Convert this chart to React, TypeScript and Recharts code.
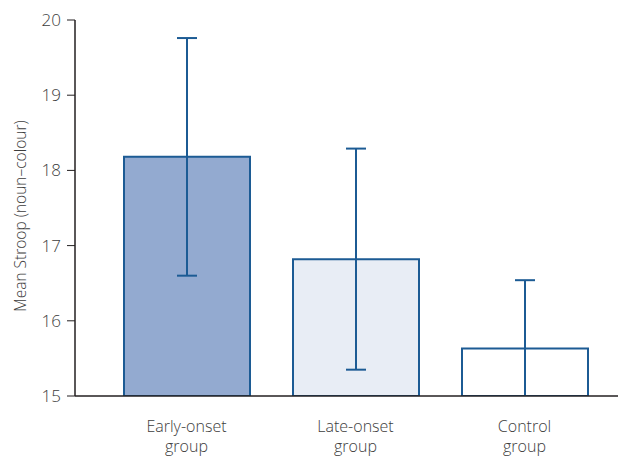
import React from 'react';
import { BarChart, Bar, XAxis, YAxis, ErrorBar, Cell } from 'recharts';

const groups = ['Early-onset\ngroup', 'Late-onset\ngroup', 'Control\ngroup'];
const means = [18.18, 16.82, 15.63];
const errors = [1.58, 1.47, 0.91];
const fills = ['#93aad0', '#e8edf5', '#ffffff'];
const yTicks = [15, 16, 17, 18, 19, 20];

const data = groups.map((g, i) => ({ group: g, mean: means[i], err: errors[i] }));

const FONT = '"Open Sans", "Liberation Sans", sans-serif';
const TEXT = '#3c3c3c';
const BLUE = '#1c5b94';
const AXIS = '#231f20';

const GroupTick = (props: any) => {
  const { x, y, payload } = props;
  const lines = String(payload.value).split('\n');
  return (
    <text x={x} y={y} textAnchor="middle" fill={TEXT} fontSize={16} fontFamily={FONT} fontWeight={300}>
      {lines.map((l, i) => (
        <tspan key={i} x={x} dy={i === 0 ? 28 : 20}>{l}</tspan>
      ))}
    </text>
  );
};

export default function App() {
  return (
    <div style={{ position: 'absolute', left: 0, top: 0, background: '#fff' }}>
      {/* keep the control group's lower whisker inside the plot, like the original */}
      <style>{'.recharts-errorBar{clip-path:url(#clipPath-bars)}'}</style>
      <BarChart width={618} height={456} data={data} margin={{ top: 20, right: 0, bottom: 0, left: 0 }}>
        <XAxis
          dataKey="group"
          height={60}
          padding={{ left: 27, right: 9 }}
          tickLine={false}
          axisLine={{ stroke: AXIS, strokeWidth: 1.5 }}
          tick={<GroupTick />}
          interval={0}
        />
        <YAxis
          width={75}
          domain={[15, 20]}
          ticks={yTicks}
          allowDataOverflow
          tickSize={8}
          tickMargin={6}
          tickLine={{ stroke: AXIS, strokeWidth: 1 }}
          axisLine={{ stroke: AXIS, strokeWidth: 1.5 }}
          tick={{ fill: TEXT, fontSize: 17, fontFamily: FONT, fontWeight: 300 }}
          label={{
            value: 'Mean Stroop (noun–colour)',
            angle: -90,
            position: 'insideLeft',
            dx: 15,
            dy: 8,
            style: { textAnchor: 'middle', fill: TEXT, fontSize: 15.5, fontFamily: FONT, fontWeight: 300 },
          }}
        />
        <Bar id="bars" dataKey="mean" barSize={126} stroke={BLUE} strokeWidth={2} isAnimationActive={false}>
          {data.map((d, i) => (
            <Cell key={i} fill={fills[i]} />
          ))}
          <ErrorBar dataKey="err" width={10} stroke={BLUE} strokeWidth={2} />
        </Bar>
      </BarChart>
    </div>
  );
}
